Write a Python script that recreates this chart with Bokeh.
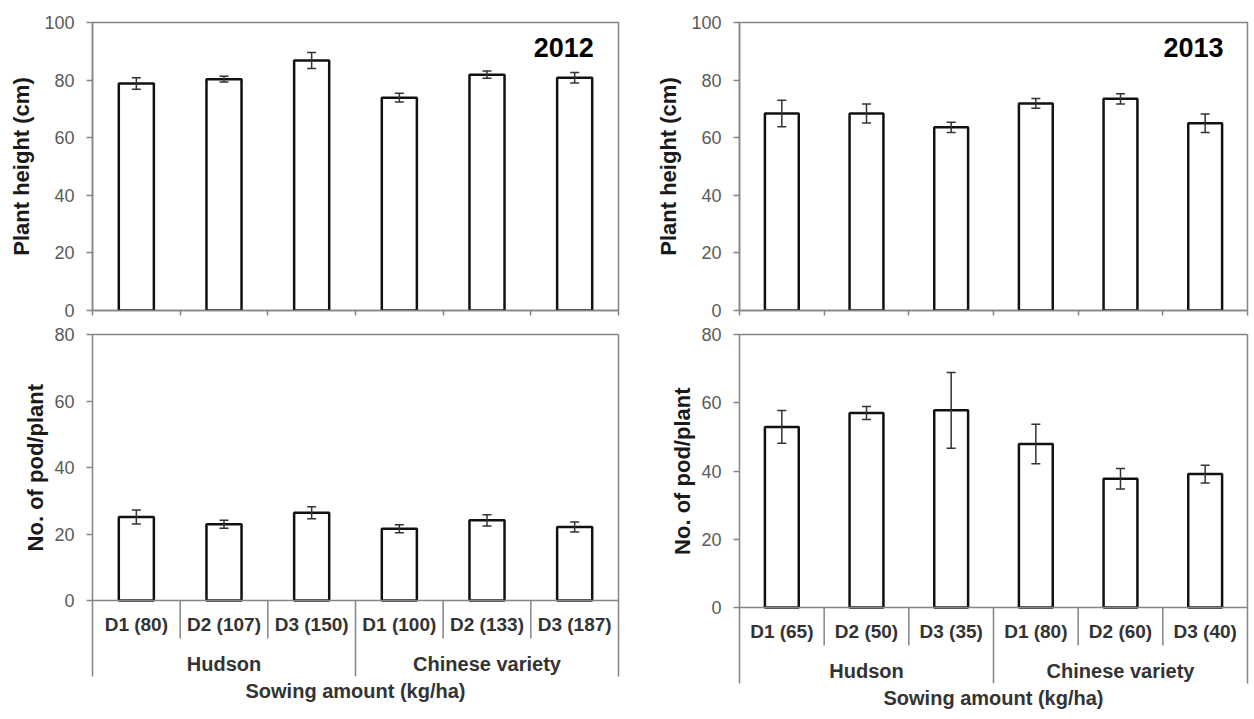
from bokeh.plotting import figure
from bokeh.models import (Range1d, FixedTicker, LinearAxis, Whisker, TeeHead,
                          ColumnDataSource, Span, Title)
from bokeh.layouts import row, column
from bokeh.core.properties import value
from bokeh.embed import file_html
from bokeh.resources import INLINE

# ---------------- data ----------------
labels_2012 = ["D1 (80)", "D2 (107)", "D3 (150)", "D1 (100)", "D2 (133)", "D3 (187)"]
labels_2013 = ["D1 (65)", "D2 (50)", "D3 (35)", "D1 (80)", "D2 (60)", "D3 (40)"]
variety = ["Hudson", "Hudson", "Hudson", "Chinese variety", "Chinese variety", "Chinese variety"]

height_2012 = [78.8, 80.3, 86.8, 73.9, 81.9, 80.8]
height_2012_err = [2.0, 1.0, 2.8, 1.5, 1.3, 1.8]
height_2013 = [68.4, 68.4, 63.6, 71.9, 73.5, 65.0]
height_2013_err = [4.6, 3.3, 1.8, 1.7, 1.8, 3.2]

pods_2012 = [25.1, 22.9, 26.4, 21.6, 24.1, 22.1]
pods_2012_err = [2.1, 1.2, 1.8, 1.2, 1.7, 1.5]
pods_2013 = [52.9, 57.0, 57.8, 47.9, 37.7, 39.1]
pods_2013_err = [4.8, 1.9, 11.1, 5.8, 3.0, 2.6]

height_ticks = [0, 20, 40, 60, 80, 100]
pod_ticks = [0, 20, 40, 60, 80]

# ---------------- style ----------------
FONT = "Liberation Sans"
AXIS_GRAY = "#858585"
TICK_COLOR = "#5a5a5a"
TITLE_COLOR = "#1a1a1a"
LABEL_COLOR = "#333333"


def style_yaxis(ax, ticks, title):
    ax.ticker = FixedTicker(ticks=ticks)
    ax.axis_line_color = AXIS_GRAY
    ax.axis_line_width = 1.5
    ax.major_tick_line_color = AXIS_GRAY
    ax.major_tick_line_width = 1.5
    ax.major_tick_out = 6
    ax.major_tick_in = 0
    ax.minor_tick_line_color = None
    ax.major_label_text_font = FONT
    ax.major_label_text_font_size = "18px"
    ax.major_label_text_color = TICK_COLOR
    ax.major_label_standoff = 12
    if title:
        ax.axis_label = title
        ax.axis_label_text_font = FONT
        ax.axis_label_text_font_size = "22px"
        ax.axis_label_text_font_style = "bold"
        ax.axis_label_text_color = TITLE_COLOR
        ax.axis_label_standoff = 7


def plain_line_axis(ax):
    ax.ticker = FixedTicker(ticks=[])
    ax.axis_line_color = AXIS_GRAY
    ax.axis_line_width = 1.5
    ax.major_tick_out = 0
    ax.major_tick_in = 0
    ax.minor_tick_out = 0
    ax.minor_tick_in = 0
    ax.major_label_standoff = 0


def bars(p, vals, errs):
    n = len(vals)
    xs = [i + 0.5 for i in range(n)]
    src = ColumnDataSource(dict(x=xs, top=vals,
                                upper=[v + e for v, e in zip(vals, errs)],
                                lower=[v - e for v, e in zip(vals, errs)]))
    p.vbar(x="x", top="top", bottom=0, width=0.4, source=src,
           fill_color="white", line_color="#111111", line_width=2.5)
    w = Whisker(source=src, base="x", upper="upper", lower="lower",
                line_color="#333333", line_width=1.5, level="annotation",
                upper_head=TeeHead(size=9, line_color="#333333", line_width=1.5),
                lower_head=TeeHead(size=9, line_color="#333333", line_width=1.5))
    p.add_layout(w)


def base_fig(width, height, n, yr, ml, mr, mt, mb, **kw):
    p = figure(width=width, height=height, x_range=Range1d(0, n), y_range=yr,
               output_backend="svg", toolbar_location=None,
               min_border_left=ml, min_border_right=mr,
               min_border_top=mt, min_border_bottom=mb, **kw)
    p.grid.visible = False
    p.background_fill_color = "white"
    p.border_fill_color = "white"
    return p


def top_panel(vals, errs, year, ml, fw, mr):
    n = len(vals)
    p = base_fig(ml + fw + mr, 322, n, Range1d(0, 100), ml, mr, 22, 12)
    p.outline_line_color = AXIS_GRAY
    p.outline_line_width = 1.5
    style_yaxis(p.left[0], height_ticks, "Plant height (cm)")
    xa = p.below[0]
    # category boundaries as (unlabelled) ticks
    xa.ticker = FixedTicker(ticks=[], minor_ticks=list(range(n + 1)))
    xa.axis_line_color = AXIS_GRAY
    xa.axis_line_width = 1.5
    xa.minor_tick_line_color = AXIS_GRAY
    xa.minor_tick_line_width = 1.5
    xa.minor_tick_out = 5
    xa.minor_tick_in = 0
    xa.major_tick_out = 0
    xa.major_label_standoff = 0
    bars(p, vals, errs)
    p.text(x=[n * 0.953], y=[91.3], text=[year], text_align="right",
           text_baseline="middle", text_font=value(FONT), text_font_style="bold",
           text_font_size="27px", text_color="black")
    return p


def bottom_panel(vals, errs, labels, ml, fw, mr, zero_px, table_px, mb):
    n = len(vals)
    frame_h = zero_px + table_px
    per_px = pod_ticks[-1] / zero_px           # data units per pixel
    ymin = -table_px * per_px
    p = base_fig(ml + fw + mr, 12 + frame_h + mb, n, Range1d(ymin, pod_ticks[-1]),
                 ml, mr, 12, mb)
    p.outline_line_color = None
    ya = p.left[0]
    xa = p.below[0]
    style_yaxis(ya, pod_ticks, None)

    # box lines: top and right
    ta = LinearAxis()
    ra = LinearAxis()
    plain_line_axis(ta)
    plain_line_axis(ra)
    p.add_layout(ta, "above")
    p.add_layout(ra, "right")

    plain_line_axis(xa)
    xa.axis_line_color = None
    xa.axis_label = "Sowing amount (kg/ha)"
    xa.axis_label_text_font = FONT
    xa.axis_label_text_font_size = "20px"
    xa.axis_label_text_font_style = "bold"
    xa.axis_label_text_color = LABEL_COLOR
    xa.axis_label_standoff = 3

    # y title centred on the 0..80 part of the axis
    title_len = 167
    t = Title(text="No. of pod/plant", align="right",
              offset=zero_px / 2 - title_len / 2, standoff=8,
              text_font=FONT, text_font_size="22px", text_font_style="bold",
              text_color=TITLE_COLOR)
    p.add_layout(t, "left")

    p.add_layout(Span(location=0, dimension="width", line_color=AXIS_GRAY,
                      line_width=1.5))
    bars(p, vals, errs)

    # category table
    groups = []
    for i, g in enumerate(variety):
        if not groups or groups[-1][0] != g:
            groups.append([g, i, i + 1])
        else:
            groups[-1][2] = i + 1
    group_bounds = [g[2] for g in groups[:-1]]
    short = [b for b in range(1, n) if b not in group_bounds]
    p.segment(x0=short, y0=[0] * len(short), x1=short,
              y1=[-38 * per_px] * len(short),
              line_color=AXIS_GRAY, line_width=1.5)
    p.segment(x0=group_bounds, y0=[0] * len(group_bounds), x1=group_bounds,
              y1=[ymin] * len(group_bounds), line_color=AXIS_GRAY, line_width=1.5)
    p.text(x=[i + 0.5 for i in range(n)], y=[-24 * per_px] * n, text=labels,
           text_align="center", text_baseline="middle", text_font=value(FONT),
           text_font_style="bold", text_font_size="19px", text_color=LABEL_COLOR)
    p.text(x=[(g[1] + g[2]) / 2 for g in groups], y=[-63 * per_px] * len(groups),
           text=[g[0] for g in groups], text_align="center", text_baseline="middle",
           text_font=value(FONT), text_font_style="bold", text_font_size="20px",
           text_color=LABEL_COLOR)
    return p


# left column: frame x 92..618
L_ML, L_FW, L_MR = 92, 526, 12
# right column: frame x 739..1247 (column starts at 630)
R_ML, R_FW, R_MR = 109, 508, 7

a1 = top_panel(height_2012, height_2012_err, "2012", L_ML, L_FW, L_MR)
b1 = bottom_panel(pods_2012, pods_2012_err, labels_2012, L_ML, L_FW, L_MR, 266, 76, 43)

a2 = top_panel(height_2013, height_2013_err, "2013", R_ML, R_FW, R_MR)
b2 = bottom_panel(pods_2013, pods_2013_err, labels_2013, R_ML, R_FW, R_MR, 273, 76, 36)

layout = row(column(a1, b1), column(a2, b2))

open("out.html", "w").write(file_html(layout, INLINE))
